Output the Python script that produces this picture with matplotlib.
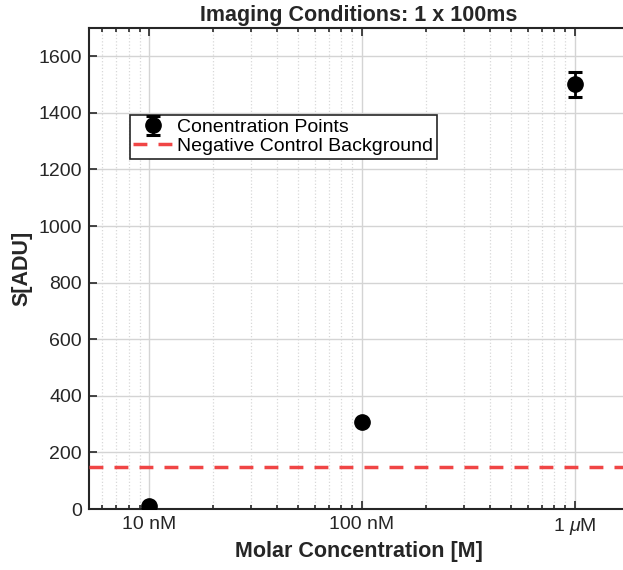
import numpy as np
import matplotlib.pyplot as plt
from matplotlib.ticker import LogLocator, NullFormatter

plt.rcParams['font.family'] = ['Liberation Sans', 'DejaVu Sans']
plt.rcParams['mathtext.fontset'] = 'custom'
plt.rcParams['mathtext.it'] = 'Liberation Sans:italic'
plt.rcParams['mathtext.rm'] = 'Liberation Sans'

# data
conc = [1e-8, 1e-7, 1e-6]          # molar
signal = [10, 308, 1501]           # S[ADU]
signal_err = [2, 2, 45]
background = 148                   # negative control level
xtick_vals = [1e-8, 1e-7, 1e-6]
xtick_labels = ['10 nM', '100 nM', r'1 $\mu$M']

dark = '#262626'

fig = plt.figure(figsize=(6.23, 5.70), dpi=100)
ax = fig.add_axes([89/623, 61/570, 540/623, 481/570])

pts = ax.errorbar(conc, signal, yerr=signal_err, fmt='o', color='k', ms=11,
                  capsize=5, capthick=2.2, elinewidth=2, zorder=5)
bg = ax.axhline(background, color='#f04545', ls=(0, (4, 3.2)), lw=2.5, zorder=4)

ax.set_xscale('log')
ax.set_xlim(5.2e-9, 1.8e-6)
ax.set_ylim(0, 1700)
ax.set_xticks(xtick_vals)
ax.set_xticklabels(xtick_labels)
ax.xaxis.set_minor_locator(LogLocator(base=10, subs=np.arange(2, 10)))
ax.xaxis.set_minor_formatter(NullFormatter())
ax.set_yticks(np.arange(0, 1601, 200))

ax.grid(True, which='major', color='#d4d4d4', lw=1)
ax.grid(True, which='minor', axis='x', color='#d8d8d8', lw=0.9, ls=':')
ax.set_axisbelow(True)
ax.tick_params(which='both', direction='in', top=True, right=False, labelsize=14,
               colors=dark, width=1.2, pad=5)
ax.tick_params(which='major', length=6)
ax.tick_params(which='minor', length=3)
for s in ['left', 'bottom', 'top']:
    ax.spines[s].set_linewidth(1.5)
    ax.spines[s].set_color(dark)
ax.spines['right'].set_visible(False)

ax.set_xlabel('Molar Concentration [M]', fontsize=15.5, fontweight='bold', color=dark, labelpad=3)
ax.set_ylabel('S[ADU]', fontsize=15.5, fontweight='bold', color=dark, labelpad=4)
ax.set_title('Imaging Conditions: 1 x 100ms', fontsize=15.5, fontweight='bold', color=dark, pad=5)

leg = ax.legend([pts, bg], ['Conentration Points', 'Negative Control Background'],
                loc='upper left', bbox_to_anchor=(0.075, 0.82), fontsize=14,
                fancybox=False, framealpha=1, edgecolor=dark, borderpad=0.2,
                handlelength=2.0, handletextpad=0.25, labelspacing=0.05, borderaxespad=0)
leg.get_frame().set_linewidth(1.2)

fig.savefig('out.png', dpi=100)
